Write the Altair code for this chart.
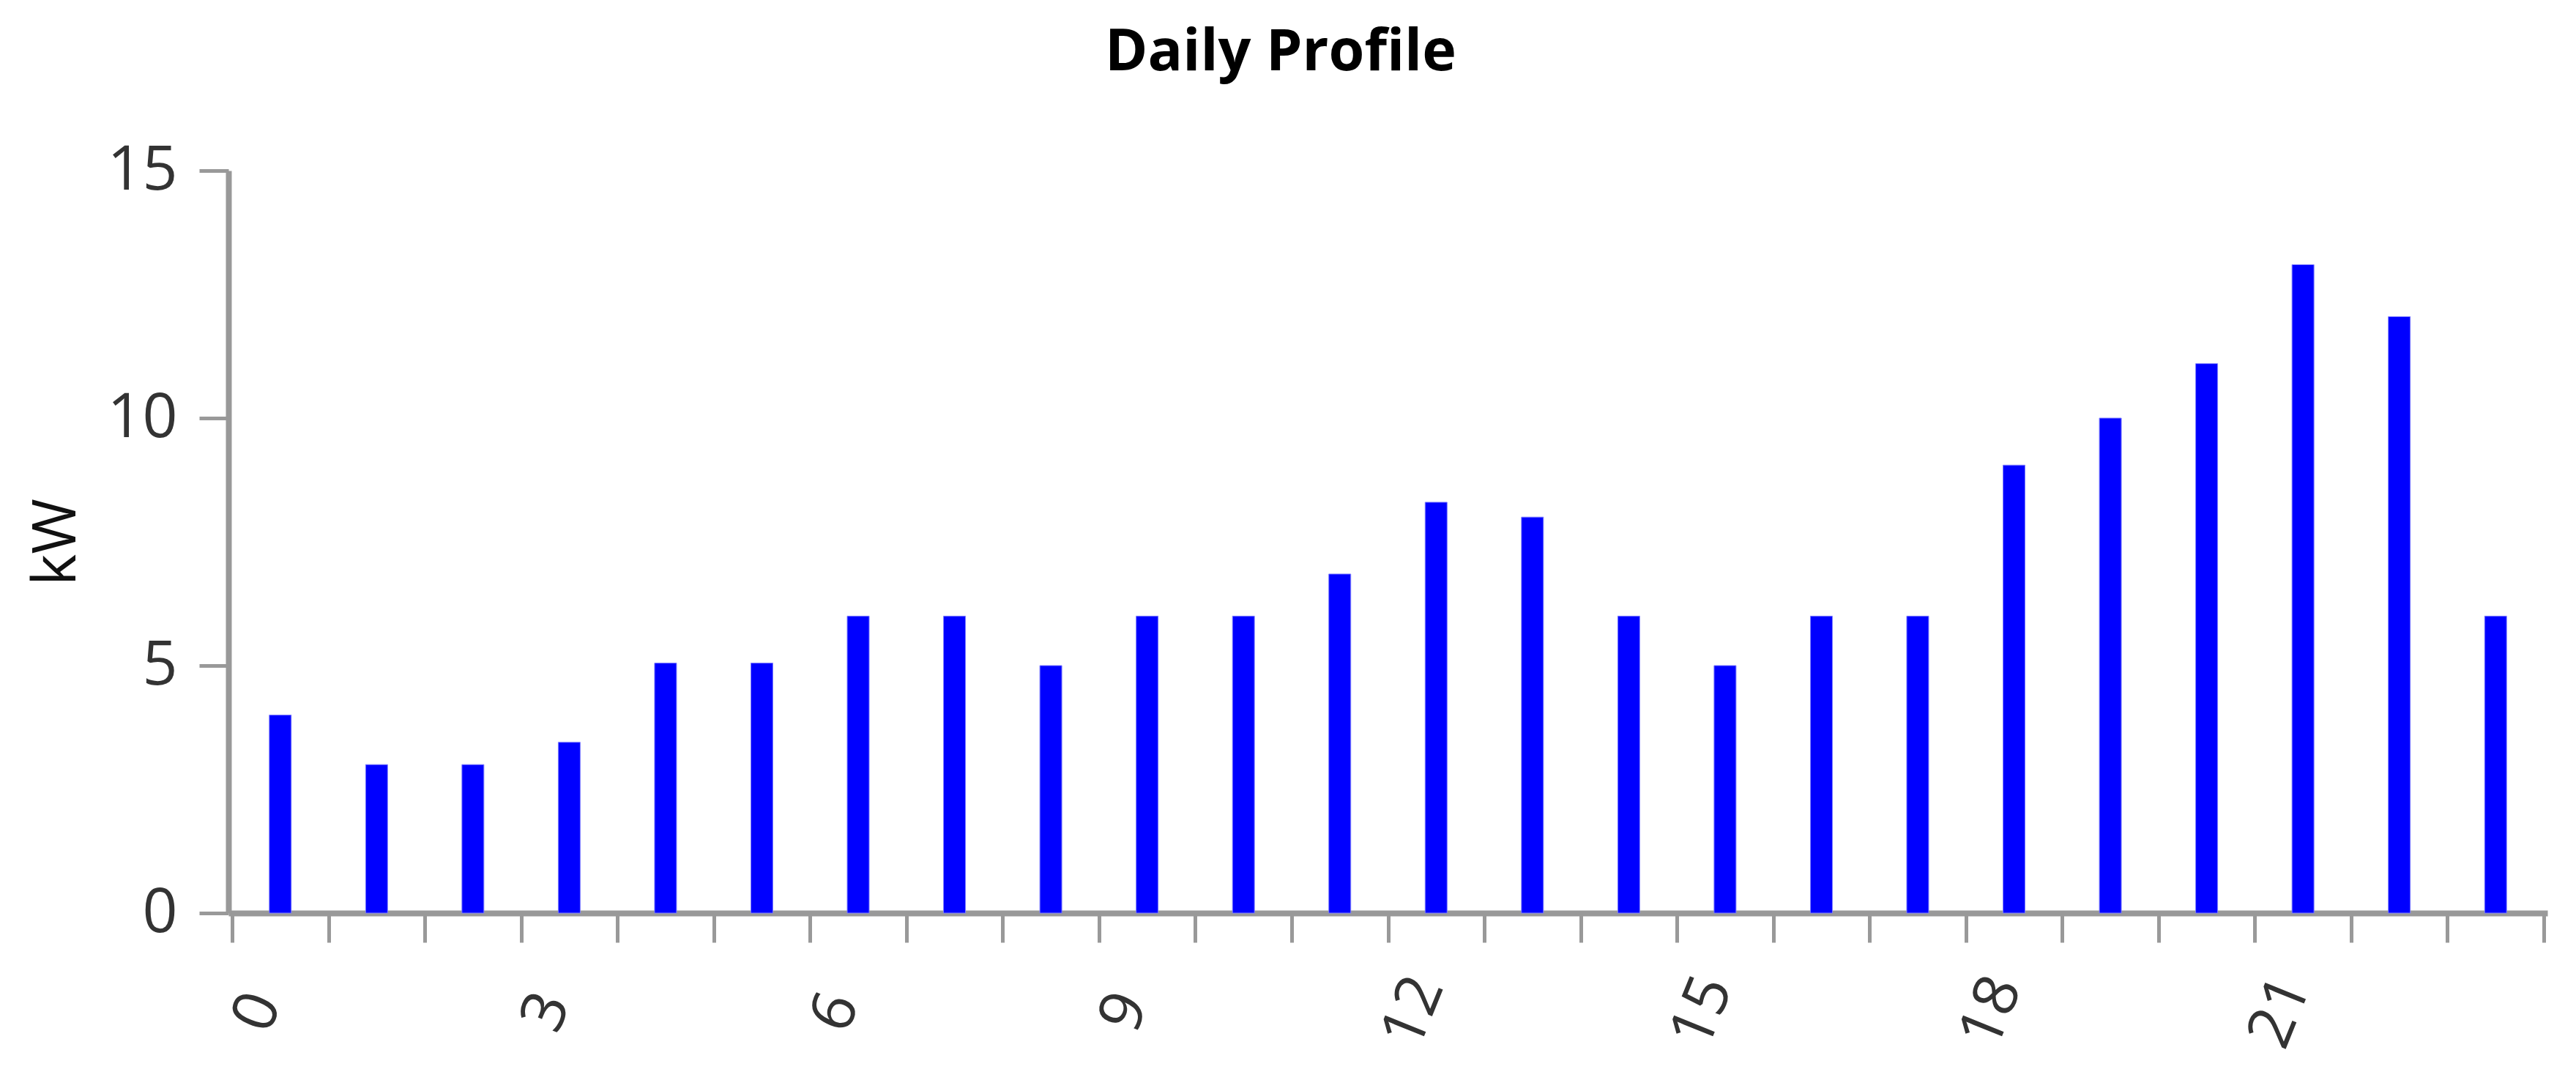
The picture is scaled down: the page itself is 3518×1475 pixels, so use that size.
import altair as alt
import pandas as pd

hours = list(range(24))
kw = [4, 3, 3, 3.45, 5.05, 5.05, 6, 6, 5, 6, 6, 6.85, 8.3, 8, 6, 5, 6, 6, 9.05, 10, 11.1, 13.1, 12.05, 6]
x_ticks = list(range(25))
y_ticks = [0, 5, 10, 15]

df = pd.DataFrame({"hour": hours, "kW": kw})

FONT = "Open Sans"

chart = (
    alt.Chart(df)
    .transform_calculate(xc="datum.hour + 0.5")
    .mark_bar(size=30, color="#0000ff", stroke="#8080ff", strokeWidth=1)
    .encode(
        x=alt.X(
            "xc:Q",
            scale=alt.Scale(domain=[0, 24], nice=False, zero=False),
            axis=alt.Axis(
                values=x_ticks,
                labelExpr="datum.value % 3 == 0 && datum.value < 24 ? datum.label : ''",
                labelAngle=-68,
                labelAlign="center",
                labelBaseline="middle",
                labelOffset=35,
                labelPadding=95,
                labelFont=FONT,
                labelFontSize=84,
                labelColor="#333333",
                tickSize=40,
                tickWidth=5,
                tickColor="#999999",
                domainColor="#999999",
                domainWidth=8,
                grid=False,
                title=None,
                labelOverlap=False,
                labelFlush=False,
            ),
        ),
        y=alt.Y(
            "kW:Q",
            scale=alt.Scale(domain=[0, 15], nice=False),
            axis=alt.Axis(
                values=y_ticks,
                labelFont=FONT,
                labelFontSize=84,
                labelColor="#333333",
                labelPadding=30,
                tickSize=40,
                tickWidth=5,
                tickColor="#999999",
                domainColor="#999999",
                domainWidth=8,
                grid=False,
                title="kW",
                titleFont=FONT,
                titleFontSize=82,
                titleFontWeight="normal",
                titleColor="#111111",
                titleAngle=-90,
                titleAlign="center",
                titleBaseline="alphabetic",
                titleX=-210,
                titleY=507,
            ),
        ),
    )
    .properties(
        width=3167,
        height=1014,
        autosize=alt.AutoSizeParams(type="none"),
        padding={"left": 304, "top": 225, "right": 25, "bottom": 220},
        title=alt.TitleParams(
            text="Daily Profile",
            font=FONT,
            fontSize=79,
            fontWeight="bold",
            color="#000000",
            anchor="middle",
            frame="bounds",
            dx=-43,
            dy=-74,
        ),
    )
    .configure_view(strokeWidth=0)
)

chart.save("out.html", embed_options={"renderer": "svg", "actions": False})
